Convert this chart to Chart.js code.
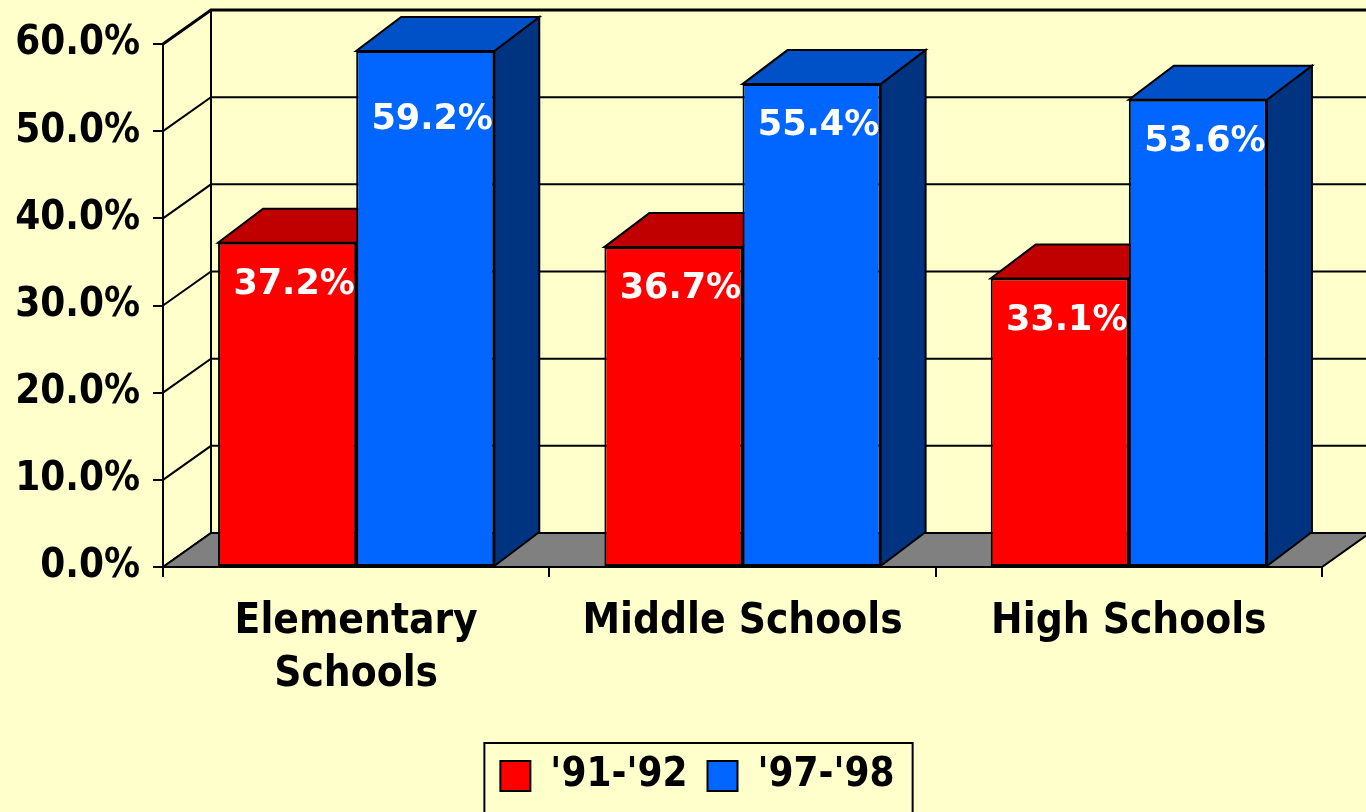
<!DOCTYPE html>
<html>
<head>
<meta charset="utf-8">
<script src="https://cdn.jsdelivr.net/npm/chart.js@4.4.1/dist/chart.umd.min.js"></script>
<style>
    html, body { margin: 0; padding: 0; background: #FFFFCC; }
    #wrap { width: 1366px; height: 812px; position: relative; }
</style>
</head>
<body>
<div id="wrap"><canvas id="chart"></canvas></div>
<script>
// Data
const categories = [['Elementary', 'Schools'], 'Middle Schools', 'High Schools'];
const seriesNames = ["'91-'92", "'97-'98"];
const values9192 = [37.2, 36.7, 33.1];
const values9798 = [59.2, 55.4, 53.6];
const yTicks = [0, 10, 20, 30, 40, 50, 60];

// Depth of the fake 3D box
const WALL_DX = 48, WALL_DY = -34;
const BAR_DX = 45, BAR_DY = -34;

const narrow = "'Liberation Sans Narrow', 'DejaVu Sans Condensed', 'Arial Narrow', sans-serif";
const frontColors = ['#FF0000', '#0066FF'];
const topColors = ['#C00000', '#0050C8'];
const sideColors = ['#990000', '#003380'];

function poly(ctx, pts, fill) {
    ctx.beginPath();
    ctx.moveTo(pts[0][0], pts[0][1]);
    for (let i = 1; i < pts.length; i++) ctx.lineTo(pts[i][0], pts[i][1]);
    ctx.closePath();
    ctx.fillStyle = fill;
    ctx.fill();
    ctx.stroke();
}

// Back wall, floor, and the tops/sides of the bars (fronts are drawn by Chart.js on top)
const backdrop3d = {
    id: 'backdrop3d',
    afterLayout(chart) {
        // legend in the reference is centred under the plot, not the whole canvas
        chart.legend.left += 73;
    },
    beforeDatasetsDraw(chart) {
        const ctx = chart.ctx;
        const { left, right, top, bottom } = chart.chartArea;
        const yScale = chart.scales.y;
        ctx.save();
        ctx.strokeStyle = '#000';
        ctx.lineWidth = 2;

        // gridlines on the side and back walls
        yTicks.forEach(v => {
            const py = yScale.getPixelForValue(v);
            ctx.beginPath();
            ctx.moveTo(left, py);
            ctx.lineTo(left + WALL_DX, py + WALL_DY);
            ctx.lineTo(chart.width + 10, py + WALL_DY);
            ctx.lineWidth = v === yTicks[yTicks.length - 1] ? 3 : 2;
            ctx.stroke();
        });
        ctx.lineWidth = 2;
        ctx.beginPath();
        ctx.moveTo(left + WALL_DX, top + WALL_DY);
        ctx.lineTo(left + WALL_DX, bottom + WALL_DY);
        ctx.stroke();

        // floor
        poly(ctx, [[left, bottom], [right, bottom], [right + WALL_DX, bottom + WALL_DY], [left + WALL_DX, bottom + WALL_DY]], '#808080');

        // bar sides and tops
        chart.data.datasets.forEach((ds, i) => {
            chart.getDatasetMeta(i).data.forEach(bar => {
                const { x, y, base, width } = bar.getProps(['x', 'y', 'base', 'width'], true);
                const l = x - width / 2, r = x + width / 2;
                poly(ctx, [[r, y], [r + BAR_DX, y + BAR_DY], [r + BAR_DX, base + BAR_DY], [r, base]], sideColors[i]);
                poly(ctx, [[l, y], [r, y], [r + BAR_DX, y + BAR_DY], [l + BAR_DX, y + BAR_DY]], topColors[i]);
            });
        });
        ctx.restore();
    },
    afterDatasetsDraw(chart) {
        const ctx = chart.ctx;
        ctx.save();
        ctx.font = "bold 35px 'DejaVu Sans', Verdana, sans-serif";
        ctx.fillStyle = '#FFFFFF';
        ctx.textAlign = 'center';
        ctx.textBaseline = 'middle';
        chart.data.datasets.forEach((ds, i) => {
            chart.getDatasetMeta(i).data.forEach((bar, j) => {
                const ly = Math.max(bar.y + 42, chart.chartArea.top + 76);
                ctx.fillText(ds.data[j].toFixed(1) + '%', bar.x + 7, ly);
            });
        });
        ctx.restore();
    },
    afterDraw(chart) {
        // border round the legend
        const lg = chart.legend;
        const boxes = lg.legendHitBoxes;
        if (!boxes || !boxes.length) return;
        const first = boxes[0], last = boxes[boxes.length - 1];
        const ctx = chart.ctx;
        ctx.save();
        ctx.strokeStyle = '#000';
        ctx.lineWidth = 2;
        ctx.strokeRect(first.left - 16, lg.top + 7, last.left + last.width - first.left + 34, 120);
        ctx.restore();
    }
};

new Chart(document.getElementById('chart'), {
    type: 'bar',
    data: {
        labels: categories,
        datasets: [
            {
                label: seriesNames[0],
                data: values9192,
                backgroundColor: frontColors[0],
                borderColor: '#000',
                borderWidth: 2,
                borderSkipped: false,
                categoryPercentage: 0.715,
                barPercentage: 1
            },
            {
                label: seriesNames[1],
                data: values9798,
                backgroundColor: frontColors[1],
                borderColor: '#000',
                borderWidth: 2,
                borderSkipped: false,
                categoryPercentage: 0.715,
                barPercentage: 1
            }
        ]
    },
    options: {
        responsive: true,
        maintainAspectRatio: false,
        animation: false,
        layout: { padding: { left: 0, right: 44, top: 44, bottom: 6 } },
        plugins: {
            tooltip: { enabled: false },
            legend: {
                position: 'bottom',
                labels: {
                    color: '#000',
                    font: { family: narrow, size: 40, weight: 'bold' },
                    boxWidth: 30,
                    boxHeight: 30,
                    padding: 20
                }
            }
        },
        scales: {
            x: {
                offset: true,
                grid: { drawOnChartArea: false, tickLength: 10, color: '#000', lineWidth: 2, offset: true },
                border: { display: true, color: '#000', width: 2 },
                ticks: {
                    color: '#000',
                    font: { family: narrow, size: 42, weight: 'bold', lineHeight: 1.26 },
                    padding: 19,
                    maxRotation: 0,
                    autoSkip: false
                },
                afterFit(scale) { scale.height = 169; }
            },
            y: {
                min: 0,
                max: 60,
                grid: { drawOnChartArea: false, tickLength: 10, color: '#000', lineWidth: 2 },
                border: { display: true, color: '#000', width: 2 },
                ticks: {
                    stepSize: 10,
                    color: '#000',
                    font: { family: narrow, size: 40, weight: 'bold' },
                    padding: 13,
                    callback: v => v.toFixed(1) + '%'
                },
                afterFit(scale) { scale.width = 163; }
            }
        }
    },
    plugins: [backdrop3d]
});
</script>
</body>
</html>
